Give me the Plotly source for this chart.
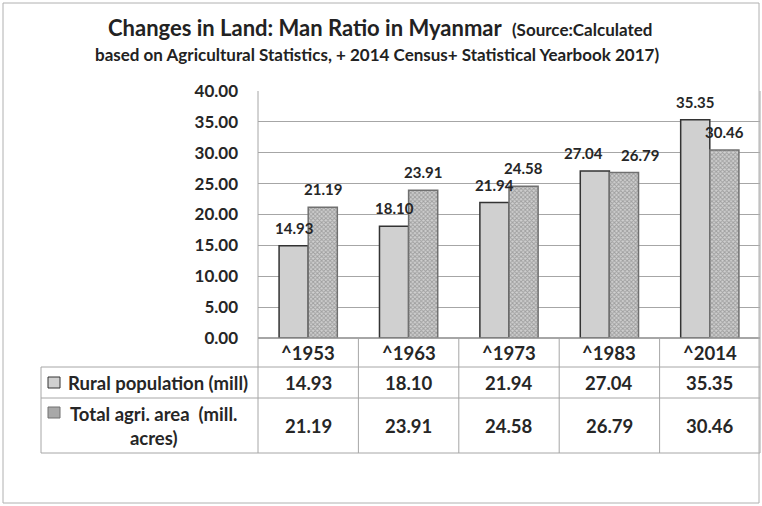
import plotly.graph_objects as go

# data
years = ["^1953", "^1963", "^1973", "^1983", "^2014"]
rural_pop = [14.93, 18.10, 21.94, 27.04, 35.35]
agri_area = [21.19, 23.91, 24.58, 26.79, 30.46]
series_names = ["Rural population (mill)", "Total agri. area\u00a0 (mill.<br>acres)"]
y_ticks = [0, 5, 10, 15, 20, 25, 30, 35, 40]

# page geometry (pixels)
W, H = 762, 506
PL, PR, PT, PB = 258, 760, 91, 338      # plot area
ROW_Y = [338, 367, 398, 453]            # table row borders
LABEL_L = 41                            # left edge of the legend column
FONT = "Lato, 'Open Sans', sans-serif"
TXT = "#262626"
LINE = "#a6a6a6"


def px(x):
    return (x - PL) / (PR - PL)


def py(y):
    return (PB - y) / (PB - PT)


def bold(size, color=TXT):
    return dict(family=FONT, size=size, color=color, weight="bold")


cats = list(range(len(years)))

fig = go.Figure()
fig.add_trace(go.Bar(
    x=cats, y=rural_pop, name=series_names[0],
    marker=dict(color="#d0d0d0", line=dict(color="#333333", width=1.5)),
))
fig.add_trace(go.Bar(
    x=cats, y=agri_area, name=series_names[1],
    marker=dict(
        color="#b8b8b8",
        line=dict(color="#707070", width=1.5),
        pattern=dict(shape="x", size=3, solidity=0.55,
                     fgcolor="#6e6e6e", bgcolor="#d0d0d0"),
    ),
))

ann = []
# bar value labels (Excel nudged the 1983 pair apart)
half = 0.145
nudge = {3: (-11, 16)}
for i in cats:
    dx = nudge.get(i, (0, 0))
    for v, off, s in ((rural_pop[i], -half, dx[0]), (agri_area[i], half, dx[1])):
        ann.append(dict(x=i + off, y=v, xref="x", yref="y", text=f"{v:.2f}",
                        showarrow=False, yshift=18, xshift=s,
                        xanchor="center", yanchor="middle", font=bold(15)))

# data table text
row_mid = [(ROW_Y[k] + ROW_Y[k + 1]) / 2 for k in range(3)]
for i in cats:
    for k, txt in enumerate((years[i], f"{rural_pop[i]:.2f}", f"{agri_area[i]:.2f}")):
        ann.append(dict(x=i, y=py(row_mid[k]), xref="x", yref="paper", text=txt,
                        showarrow=False, xanchor="center", yanchor="middle",
                        font=bold(18.5)))
ann.append(dict(x=px(158), y=py(row_mid[1]), xref="paper", yref="paper",
                text=series_names[0], showarrow=False,
                xanchor="center", yanchor="middle", font=bold(18.5)))
ann.append(dict(x=px(153), y=py(row_mid[2]), xref="paper", yref="paper",
                text=series_names[1], showarrow=False, align="center",
                xanchor="center", yanchor="middle", font=bold(18.5)))

# title
ann.append(dict(x=px(380), y=py(27), xref="paper", yref="paper",
                text="Changes in Land: Man Ratio in Myanmar  "
                     "<span style='font-size:17px'>(Source:Calculated</span>",
                showarrow=False, xanchor="center", yanchor="middle",
                font=bold(22, "#222222")))
ann.append(dict(x=px(377), y=py(54), xref="paper", yref="paper",
                text="based on Agricultural Statistics, + 2014 Census+ Statistical Yearbook 2017)",
                showarrow=False, xanchor="center", yanchor="middle",
                font=bold(17, "#222222")))

shapes = []


def hline(y, x0, x1):
    shapes.append(dict(type="line", xref="paper", yref="paper",
                       x0=px(x0), x1=px(x1), y0=py(y), y1=py(y),
                       line=dict(color=LINE, width=1)))


def vline(x, y0, y1, xref="paper"):
    xx = x if xref == "x" else px(x)
    shapes.append(dict(type="line", xref=xref, yref="paper",
                       x0=xx, x1=xx, y0=py(y0), y1=py(y1),
                       line=dict(color=LINE, width=1)))


hline(ROW_Y[0], PL, PR)
for y in ROW_Y[1:]:
    hline(y, LABEL_L, PR)
vline(LABEL_L, ROW_Y[1], ROW_Y[3])
vline(PL, PT, ROW_Y[3])
vline(PR, PT, ROW_Y[3])
for i in cats[:-1]:
    vline(i + 0.5, ROW_Y[0], ROW_Y[3], xref="x")

# legend keys inside the table
for k, (fill, edge) in enumerate((("#d0d0d0", "#333333"), ("#a8a8a8", "#707070"))):
    yc = (382.5, 412.5)[k]
    shapes.append(dict(type="rect", xref="paper", yref="paper",
                       x0=px(48), x1=px(60), y0=py(yc - 5.5), y1=py(yc + 5.5),
                       fillcolor=fill, line=dict(color=edge, width=1)))

# outer frame
shapes.append(dict(type="rect", xref="paper", yref="paper",
                   x0=px(3), x1=px(759), y0=py(3), y1=py(503),
                   line=dict(color="#b0b0b0", width=1)))

fig.update_layout(
    width=W, height=H,
    margin=dict(l=PL, r=W - PR, t=PT, b=H - PB),
    paper_bgcolor="white", plot_bgcolor="white",
    barmode="group", bargap=0.42, bargroupgap=0,
    showlegend=False,
    annotations=ann, shapes=shapes,
    font=dict(family=FONT, color=TXT),
)
fig.update_xaxes(range=[-0.5, 4.5], showticklabels=False, showgrid=False,
                 zeroline=False, fixedrange=True)
fig.update_yaxes(range=[0, 40], tickvals=y_ticks, tickformat=".2f",
                 showgrid=True, gridcolor=LINE, gridwidth=1,
                 zeroline=True, zerolinecolor=LINE, ticks="",
                 ticklabelstandoff=19, tickfont=bold(17),
                 fixedrange=True)

# the page body has a default 8px margin; drop it so the figure fills the window
fig.write_html("out.html", config={"displayModeBar": False},
               post_script="document.body.style.margin='0';")
